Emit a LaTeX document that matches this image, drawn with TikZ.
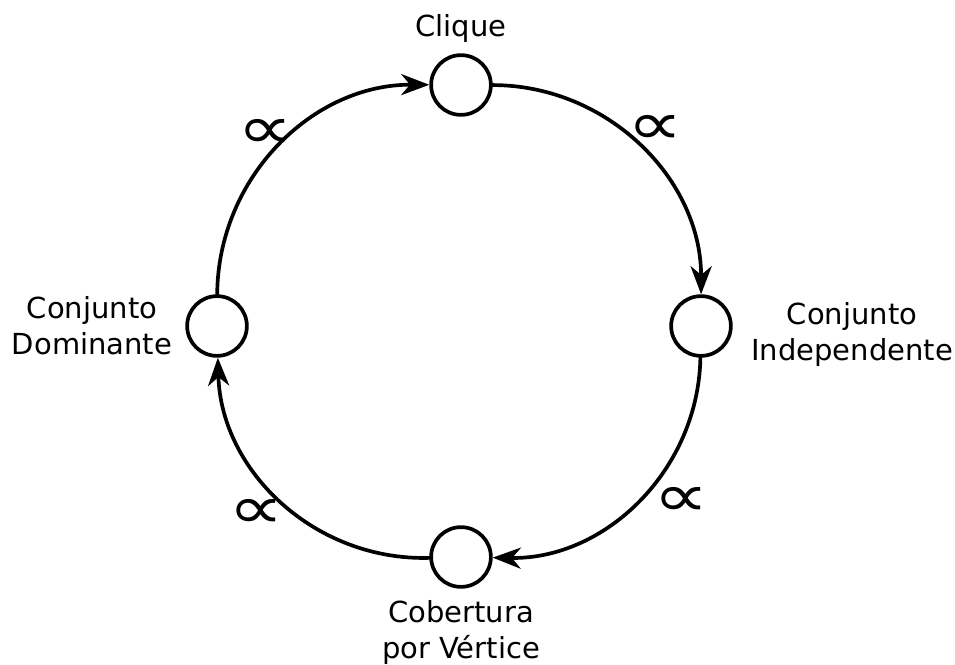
\documentclass[tikz,border=0pt]{standalone}
\usepackage{fontspec}
\usepackage{graphicx}
\setmainfont{DejaVu Sans}
\usetikzlibrary{arrows.meta,positioning}
\begin{document}
\begin{tikzpicture}[x=.02cm, y=.02cm, every node/.style={font=\fontsize{16.5}{20.4}\selectfont}, line cap=round, line join=round]
  \tikzset{problem/.style={draw=black, circle, line width=2.1pt, minimum size=34pt, inner sep=0pt}, reduction/.style={draw=black, line width=2.1pt, -{Stealth[length=16pt, width=12pt, inset=5pt]}, bend left=45}, propto/.style={font=\fontsize{34}{34}\selectfont, inner sep=0pt}}
  \useasboundingbox (0,0) rectangle (955,664);

  % the four problems sit on one big circle
  \node[problem] (clique) at (461,579) {};
  \node[problem] (indep) at (701,338) {};
  \node[problem] (cover) at (461,107) {};
  \node[problem] (domin) at (217,338) {};

  \node (cliquetxt) [above=2.5pt of clique] {Clique};
  \node (indeptxt) [right=7pt of indep, yshift=-5pt, align=center] {Conjunto\\Independente};
  \node (covertxt) [below=3pt of cover, align=center] {Cobertura\\por Vértice};
  \node (domintxt) [left=4pt of domin, align=center] {Conjunto\\Dominante};

  % reductions run clockwise
  \draw[reduction] (clique) to node[propto, pos=.5, shift={(15,17)}] (r1) {\scalebox{1.3}[1]{∝}} (indep);
  \draw[reduction] (indep) to node[propto, pos=.5, shift={(43,-1)}] (r2) {\scalebox{1.3}[1]{∝}} (cover);
  \draw[reduction] (cover) to node[propto, pos=.5, shift={(-26,-12)}] (r3) {\scalebox{1.3}[1]{∝}} (domin);
  \draw[reduction] (domin) to node[propto, pos=.5, shift={(-14,12)}] (r4) {\scalebox{1.3}[1]{∝}} (clique);
\end{tikzpicture}
\end{document}
